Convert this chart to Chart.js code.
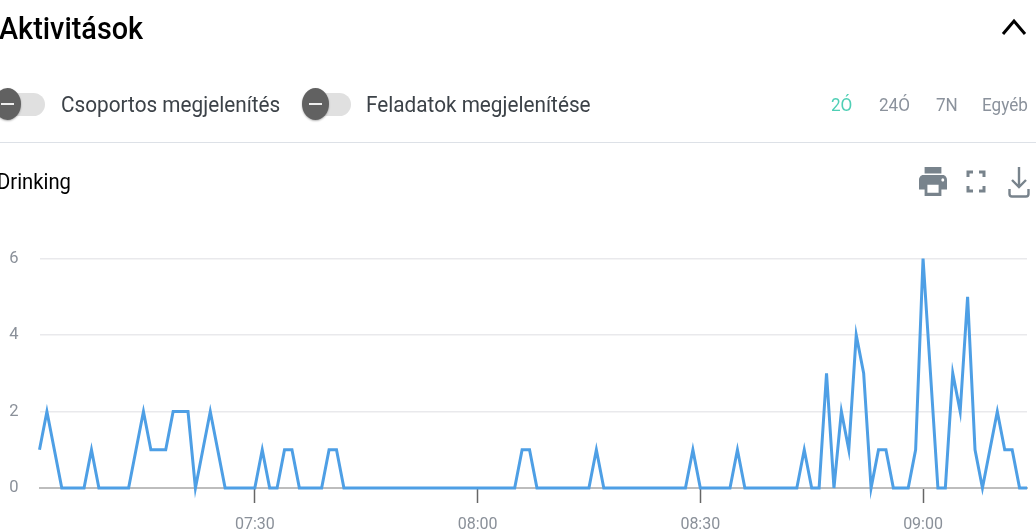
<!DOCTYPE html>
<html lang="hu">
<head>
<meta charset="utf-8">
<title>Aktivitások</title>
<script src="https://cdn.jsdelivr.net/npm/chart.js@4"></script>
<style>
  html, body { margin: 0; padding: 0; background: #fff; }
  body { position: relative; width: 1036px; height: 532px; overflow: hidden; font-family: Roboto, sans-serif; }
  #chart { position: absolute; left: 0; top: 0; }
  .txt { position: absolute; white-space: nowrap; line-height: 1; transform-origin: left center; }
  .title { left: -1px; top: 13px; font-size: 31px; font-weight: 500; color: #000; transform: scaleX(.93); }
  .opt { top: 94px; font-size: 21.5px; color: #3c4248; transform: scaleX(.965); }
  .range { top: 96px; font-size: 18px; color: #8b929c; transform: scaleX(.95); }
  .name { left: -3px; top: 171px; font-size: 22px; color: #000; transform: scaleX(.92); }
  .track { position: absolute; top: 93px; height: 23px; background: #e0e0e0; border-radius: 12px; }
  .knob { position: absolute; top: 88px; width: 27px; height: 32px; background: #616161; border-radius: 50%; box-shadow: 0 1px 2px rgba(0,0,0,.3); }
  .knob::after { content: ""; position: absolute; left: 7px; right: 7px; top: 15px; height: 2px; background: #eee; }
  .rule { position: absolute; left: 0; right: 0; top: 142px; height: 1px; background: #dde1e7; }
  svg { position: absolute; }
</style>
</head>
<body>
<canvas id="chart" width="1036" height="532"></canvas>

<div class="txt title">Aktivitások</div>
<svg style="left:1000px;top:17px" width="28" height="20" viewBox="0 0 28 20"><path d="M3 17 L14 4 L25 17" fill="none" stroke="#000" stroke-width="3"/></svg>

<div class="track" style="left:0;width:45px"></div>
<div class="knob" style="left:-6px"></div>
<div class="txt opt" style="left:61px">Csoportos megjelenítés</div>
<div class="track" style="left:305px;width:46px"></div>
<div class="knob" style="left:302px"></div>
<div class="txt opt" style="left:366px">Feladatok megjelenítése</div>

<div class="txt range" style="left:831px;color:#4fcfb5">2Ó</div>
<div class="txt range" style="left:879px">24Ó</div>
<div class="txt range" style="left:936px">7N</div>
<div class="txt range" style="left:982px">Egyéb</div>
<div class="rule"></div>

<div class="txt name">Drinking</div>
<svg style="left:919px;top:167px" width="28" height="29" viewBox="2 3 20 18" preserveAspectRatio="none"><path fill="#78838c" d="M19 8H5c-1.66 0-3 1.34-3 3v6h4v4h12v-4h4v-6c0-1.66-1.34-3-3-3zm-3 11H8v-5h8v5zm3-7c-.55 0-1-.45-1-1s.45-1 1-1 1 .45 1 1-.45 1-1 1zm-1-9H6v4h12V3z"/></svg>
<svg style="left:966px;top:170px" width="20" height="23" viewBox="0 0 20 23"><path fill="none" stroke="#78838c" stroke-width="3" d="M2 7V2H7M13 2H18V7M18 16V21H13M7 21H2V16"/></svg>
<svg style="left:1008px;top:166px" width="22" height="32" viewBox="0 0 22 32"><path fill="none" stroke="#78838c" stroke-width="2.4" d="M11 1V21M4 14L11 21L18 14M1.5 23V28Q1.5 30.5 4 30.5H18Q20.5 30.5 20.5 28V23"/></svg>

<script>
const minutes = [
  '07:01','07:02','07:03','07:04','07:05','07:06','07:07','07:08','07:09','07:10',
  '07:11','07:12','07:13','07:14','07:15','07:16','07:17','07:18','07:19','07:20',
  '07:21','07:22','07:23','07:24','07:25','07:26','07:27','07:28','07:29','07:30',
  '07:31','07:32','07:33','07:34','07:35','07:36','07:37','07:38','07:39','07:40',
  '07:41','07:42','07:43','07:44','07:45','07:46','07:47','07:48','07:49','07:50',
  '07:51','07:52','07:53','07:54','07:55','07:56','07:57','07:58','07:59','08:00',
  '08:01','08:02','08:03','08:04','08:05','08:06','08:07','08:08','08:09','08:10',
  '08:11','08:12','08:13','08:14','08:15','08:16','08:17','08:18','08:19','08:20',
  '08:21','08:22','08:23','08:24','08:25','08:26','08:27','08:28','08:29','08:30',
  '08:31','08:32','08:33','08:34','08:35','08:36','08:37','08:38','08:39','08:40',
  '08:41','08:42','08:43','08:44','08:45','08:46','08:47','08:48','08:49','08:50',
  '08:51','08:52','08:53','08:54','08:55','08:56','08:57','08:58','08:59','09:00',
  '09:01','09:02','09:03','09:04','09:05','09:06','09:07','09:08','09:09','09:10',
  '09:11','09:12','09:13','09:14'
];

const drinking = [
  1,2,1,0,0,0,0,1,0,0,
  0,0,0,1,2,1,1,1,2,2,
  2,0,1,2,1,0,0,0,0,0,
  1,0,0,1,1,0,0,0,0,1,
  1,0,0,0,0,0,0,0,0,0,
  0,0,0,0,0,0,0,0,0,0,
  0,0,0,0,0,1,1,0,0,0,
  0,0,0,0,0,1,0,0,0,0,
  0,0,0,0,0,0,0,0,1,0,
  0,0,0,0,1,0,0,0,0,0,
  0,0,0,1,0,0,3,0,2,1,
  4,3,0,1,1,0,0,0,1,6,
  3,0,0,3,2,5,1,0,1,2,
  1,1,0,0
];

const xTickLabels = ['07:30', '08:00', '08:30', '09:00'];
const yTicks = [0, 2, 4, 6];

const isShown = i => xTickLabels.includes(minutes[i]);

new Chart(document.getElementById('chart'), {
  type: 'line',
  data: {
    labels: minutes,
    datasets: [{
      label: 'Drinking',
      data: drinking,
      borderColor: '#4e9fe5',
      borderWidth: 3,
      borderJoinStyle: 'miter',
      pointRadius: 0,
      tension: 0,
      clip: false
    }]
  },
  options: {
    responsive: false,
    animation: false,
    layout: { padding: { top: 258.5, right: 9 } },
    plugins: { legend: { display: false }, tooltip: { enabled: false } },
    scales: {
      x: {
        offset: false,
        // tick padding otherwise pushes the right edge of the plot in
        afterFit: scale => { scale.height = 44; scale.paddingRight = 0; },
        grid: {
          drawOnChartArea: false,
          tickLength: 15,
          tickWidth: 1.5,
          tickColor: ctx => isShown(ctx.index) ? '#666' : 'transparent'
        },
        border: { color: '#bdbdbd', width: 2 },
        ticks: {
          autoSkip: false,
          maxRotation: 0,
          padding: 12,
          color: '#8a9099',
          font: { family: 'Roboto', size: 16 },
          callback: (value, i) => isShown(i) ? minutes[i] : ''
        }
      },
      y: {
        min: yTicks[0],
        max: yTicks[yTicks.length - 1],
        afterFit: scale => { scale.width = 39.5; },
        afterBuildTicks: scale => { scale.ticks = yTicks.map(v => ({ value: v })); },
        grid: { color: '#e9e9ec', lineWidth: 1.5, drawTicks: false },
        border: { display: false },
        ticks: {
          padding: 21,
          color: '#8a9099',
          font: { family: 'Roboto', size: 16.5 }
        }
      }
    }
  }
});
</script>
</body>
</html>
